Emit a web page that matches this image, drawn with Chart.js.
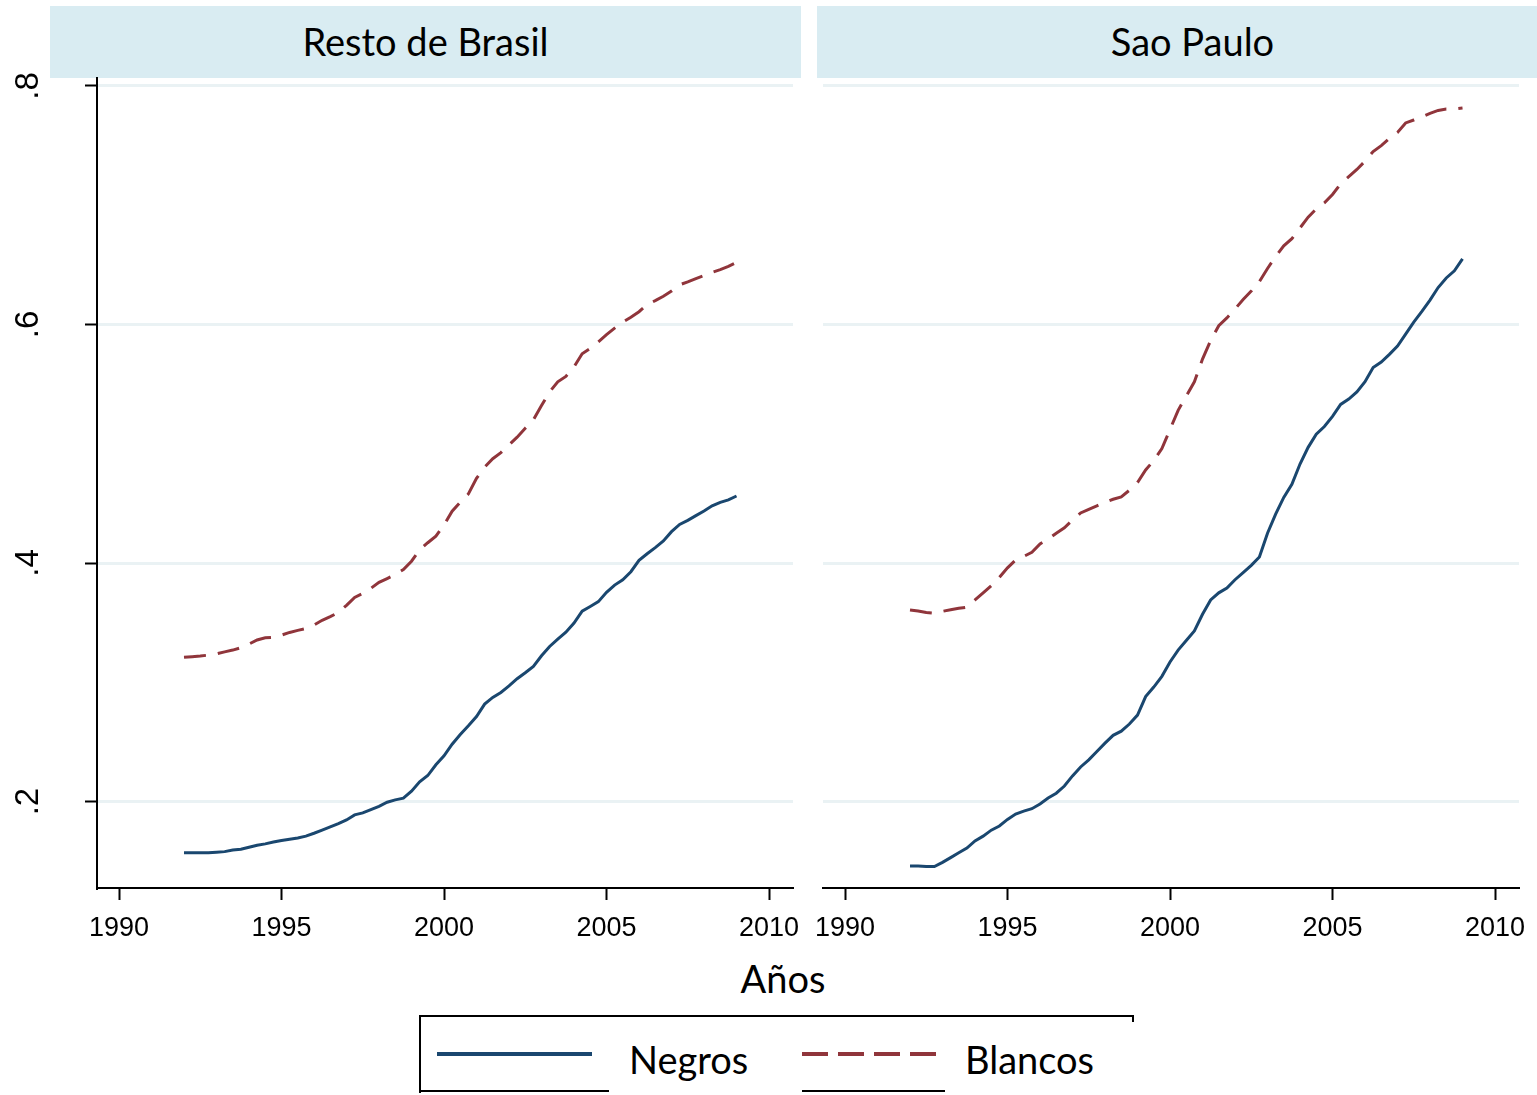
<!DOCTYPE html>
<html>
<head>
<meta charset="utf-8">
<script src="https://cdn.jsdelivr.net/npm/chart.js"></script>
<style>
  body { margin: 0; background: #fff; }
  #wrap { position: relative; width: 1537px; height: 1095px; overflow: hidden; font-family: Lato, sans-serif; }
  canvas { position: absolute; }
  .strip { position: absolute; top: 6px; height: 72px; width: 751px; background: #d9ecf2;
           font-size: 38px; line-height: 70px; text-align: center; color: #000; }
  .txt { position: absolute; font-size: 38px; color: #000; white-space: nowrap; }
  .ln { position: absolute; background: #000; }
</style>
</head>
<body>
<div id="wrap">
  <div class="strip" style="left:50px">Resto de Brasil</div>
  <div class="strip" style="left:817px">Sao Paulo</div>
  <canvas id="left" width="803" height="910" style="left:0;top:40px"></canvas>
  <canvas id="right" width="734" height="910" style="left:803px;top:40px"></canvas>
  <div class="txt" style="left:0;width:1566px;text-align:center;top:955px">Años</div>

  <!-- legend -->
  <div class="ln" style="left:419px;top:1015px;width:715px;height:2px"></div>
  <div class="ln" style="left:419px;top:1015px;width:2px;height:78px"></div>
  <div class="ln" style="left:1132px;top:1015px;width:2px;height:7px"></div>
  <div class="ln" style="left:419px;top:1090px;width:190px;height:2px"></div>
  <div class="ln" style="left:802px;top:1090px;width:143px;height:2px"></div>
  <div style="position:absolute;left:437px;top:1052px;width:155px;height:4px;background:#1a476f"></div>
  <div style="position:absolute;left:802px;top:1052px;width:134px;height:4px;
              background:repeating-linear-gradient(to right,#90353b 0 26px,transparent 26px 36px)"></div>
  <div class="txt" style="left:629px;top:1036px">Negros</div>
  <div class="txt" style="left:965px;top:1036px">Blancos</div>
</div>

<script>
// quarterly observations, 1992q1 .. 2009q1
const years = [
  1992, 1992.25, 1992.5, 1992.75, 1993, 1993.25, 1993.5, 1993.75,
  1994, 1994.25, 1994.5, 1994.75, 1995, 1995.25, 1995.5, 1995.75,
  1996, 1996.25, 1996.5, 1996.75, 1997, 1997.25, 1997.5, 1997.75,
  1998, 1998.25, 1998.5, 1998.75, 1999, 1999.25, 1999.5, 1999.75,
  2000, 2000.25, 2000.5, 2000.75, 2001, 2001.25, 2001.5, 2001.75,
  2002, 2002.25, 2002.5, 2002.75, 2003, 2003.25, 2003.5, 2003.75,
  2004, 2004.25, 2004.5, 2004.75, 2005, 2005.25, 2005.5, 2005.75,
  2006, 2006.25, 2006.5, 2006.75, 2007, 2007.25, 2007.5, 2007.75,
  2008, 2008.25, 2008.5, 2008.75, 2009
];

// Resto de Brasil
const negrosResto = [
  .157, .157, .157, .157,   .1575, .158, .1594, .160,   .1617, .1634, .1645, .166,
  .1673, .1684, .1695, .171, .1734, .176, .1787, .1815,  .1846, .1888, .1905, .1933,
  .196, .1994, .2014, .2028, .2087, .2165, .2218, .2308, .2383, .2481, .2562, .2635,
  .2713, .2817, .2873, .2915, .297, .303, .308, .3133,   .3222, .330, .3362, .342,
  .3497, .3597, .3636, .3676, .3754, .3815, .386, .3927, .4022, .4078, .4129, .4185,
  .4263, .4324, .4358, .4397, .4436, .448, .4509, .453,  .4562
];
const blancosResto = [
  .321, .3215, .322, .3228,  .3238, .3255, .327, .329,   .332, .3355, .3373, .3377,
  .3395, .3418, .3435, .345, .348, .352, .355, .3585,    .3645, .3712, .3745, .3788,
  .3838, .387, .3903, .3945, .4015, .411, .417, .4225,   .432, .4435, .451, .4579,
  .471, .4805, .4875, .4925, .499, .5055, .513, .52,     .532, .5435, .552, .5565,
  .5645, .5755, .58, .5855,  .5915, .597, .602, .606,    .6107, .6167, .62, .6237,
  .628, .6333, .6358, .6385, .641, .6438, .646, .6487,   .652
];

// Sao Paulo
const negrosSP = [
  .146, .146, .1455, .1455,  .149, .153, .157, .161,     .167, .171, .176, .1795,
  .185, .1895, .192, .194,   .198, .203, .207, .213,     .2215, .229, .235, .242,
  .249, .2555, .259, .265,   .2725, .288, .296, .305,    .317, .327, .335, .343,
  .357, .369, .375, .379,    .386, .392, .398, .405,     .425, .441, .455, .466,
  .483, .497, .508, .5145,   .523, .533, .5375, .5435,   .552, .564, .5685, .575,
  .582, .592, .602, .611,    .6205, .631, .639, .645,    .655
];
const blancosSP = [
  .3606, .3598, .3585, .3578, .3595, .3608, .362, .363,  .369, .375, .381, .388,
  .396, .4025, .4055, .409,  .416, .42, .425, .4295,     .436, .442, .445, .448,
  .451, .4535, .4555, .461,  .4675, .478, .486, .496,    .512, .528, .54, .552,
  .571, .5865, .599, .6055,  .613, .621, .628, .636,     .647, .657, .666, .672,
  .681, .69, .697, .702,     .709, .718, .724, .73,      .737, .745, .75, .756,
  .761, .769, .7715, .774,   .777, .7795, .7807, .7807,  .7815
];

const xTicks = [1990, 1995, 2000, 2005, 2010];
const yTicks = [0.2, 0.4, 0.6, 0.8];
const yTickLabels = ['.2', '.4', '.6', '.8'];

const NAVY = '#1a476f';
const MAROON = '#90353b';
const GRID = '#eaf2f4';

// stata style rotated labels on the y axis
const rotatedYLabels = {
  id: 'rotatedYLabels',
  afterDraw(chart) {
    if (!chart.options.plugins.rotatedYLabels.show) return;
    const scale = chart.scales.y;
    const ctx = chart.ctx;
    ctx.save();
    ctx.font = '33px "Liberation Sans", Arial, sans-serif';
    ctx.fillStyle = '#000';
    ctx.textAlign = 'center';
    ctx.textBaseline = 'middle';
    yTicks.forEach(function(v, i) {
      ctx.save();
      ctx.translate(29, scale.getPixelForValue(v));
      ctx.rotate(-Math.PI / 2);
      ctx.fillText(yTickLabels[i], 0, 0);
      ctx.restore();
    });
    ctx.restore();
  }
};

function toPoints(values) {
  return values.map((v, i) => ({ x: years[i], y: v }));
}

function drawPanel(canvasId, negros, blancos, withAxis) {
  const ctx = document.getElementById(canvasId).getContext('2d');
  new Chart(ctx, {
    type: 'line',
    data: {
      datasets: [{
        label: 'Negros',
        data: toPoints(negros),
        borderColor: NAVY,
        borderWidth: 3,
        pointRadius: 0,
        tension: 0
      }, {
        label: 'Blancos',
        data: toPoints(blancos),
        borderColor: MAROON,
        borderWidth: 3,
        borderDash: [22, 12],
        pointRadius: 0,
        tension: 0
      }]
    },
    options: {
      responsive: false,
      animation: false,
      layout: { padding: { top: 38, right: withAxis ? 10 : 18, left: 0, bottom: 0 } },
      scales: {
        x: {
          type: 'linear',
          min: 1989.323,
          max: 2010.738,
          afterBuildTicks: function(scale) {
            scale.ticks = xTicks.map(v => ({ value: v }));
          },
          afterFit: function(scale) {
            scale.height = 62;
            // labels may hang over the plot edge, like in stata
            scale.paddingLeft = 0;
            scale.paddingRight = 0;
          },
          border: { display: true, color: '#000', width: 2 },
          grid: { drawOnChartArea: false, drawTicks: true, tickLength: 12, tickColor: '#000', tickWidth: 2 },
          ticks: {
            autoSkip: false,
            maxRotation: 0,
            padding: 12,
            color: '#000',
            font: { family: '"Liberation Sans", Arial, sans-serif', size: 27 },
            callback: v => String(v)
          }
        },
        y: {
          min: 0.1275,
          max: 0.8067,
          afterBuildTicks: function(scale) {
            scale.ticks = yTicks.map(v => ({ value: v }));
          },
          afterFit: function(scale) { scale.width = withAxis ? 97 : 20; },
          border: { display: withAxis, color: '#000', width: 2 },
          grid: {
            color: GRID,
            lineWidth: 3,
            drawTicks: withAxis,
            tickLength: 12,
            tickColor: '#000',
            tickWidth: 2
          },
          ticks: { display: false }
        }
      },
      plugins: {
        legend: { display: false },
        tooltip: { enabled: false },
        rotatedYLabels: { show: withAxis }
      }
    },
    plugins: [rotatedYLabels]
  });
}

drawPanel('left', negrosResto, blancosResto, true);
drawPanel('right', negrosSP, blancosSP, false);
</script>
</body>
</html>
